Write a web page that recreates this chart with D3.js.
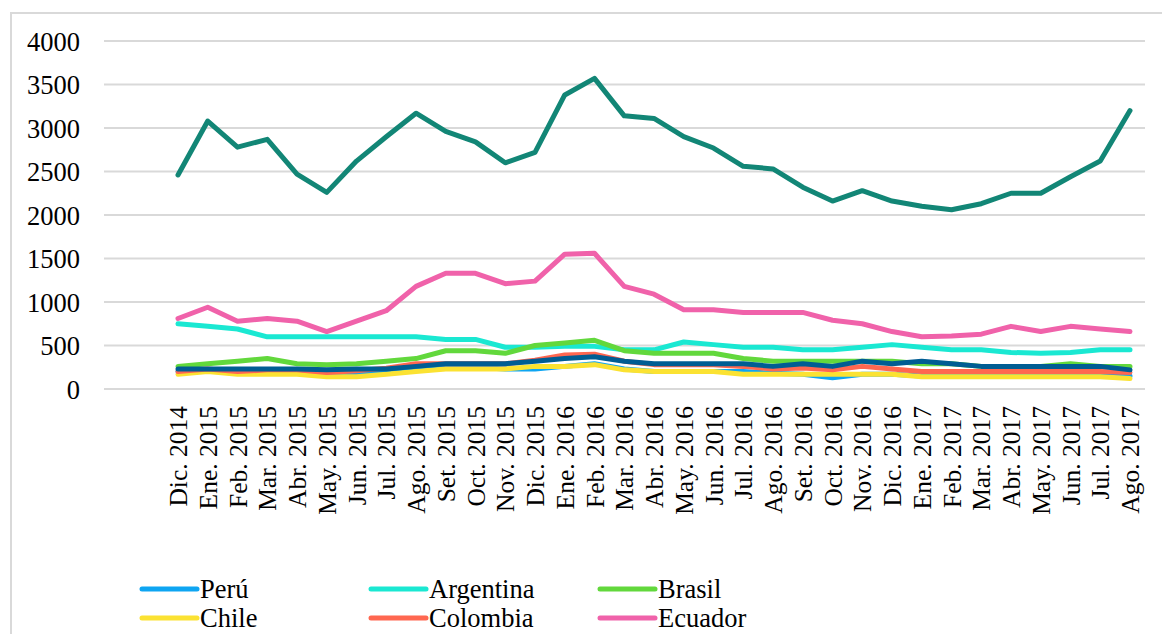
<!DOCTYPE html>
<html>
<head>
<meta charset="utf-8">
<script src="https://cdn.jsdelivr.net/npm/d3@7"></script>
<style>
  html, body { margin: 0; padding: 0; background: #fff; }
  svg { display: block; }
</style>
</head>
<body>
<svg id="chart" width="1162" height="634"></svg>
<script>
const categories = ["Dic. 2014","Ene. 2015","Feb. 2015","Mar. 2015","Abr. 2015","May. 2015","Jun. 2015","Jul. 2015","Ago. 2015","Set. 2015","Oct. 2015","Nov. 2015","Dic. 2015","Ene. 2016","Feb. 2016","Mar. 2016","Abr. 2016","May. 2016","Jun. 2016","Jul. 2016","Ago. 2016","Set. 2016","Oct. 2016","Nov. 2016","Dic. 2016","Ene. 2017","Feb. 2017","Mar. 2017","Abr. 2017","May. 2017","Jun. 2017","Jul. 2017","Ago. 2017"];

const yTicks = [0, 500, 1000, 1500, 2000, 2500, 3000, 3500, 4000];

const peru      = [200,220,200,200,200,180,180,200,220,250,250,230,230,260,290,230,200,200,200,200,180,170,130,170,170,150,150,150,150,150,150,150,150];
const argentina = [750,720,690,600,600,600,600,600,600,570,570,480,480,490,490,450,450,540,510,480,480,450,450,480,510,480,450,450,420,410,420,450,450];
const brasil    = [260,290,320,350,290,280,290,320,350,440,440,410,500,530,560,440,410,410,410,350,320,320,320,320,320,290,290,260,260,260,290,260,260];
const chile     = [170,200,170,170,170,140,140,170,200,230,230,230,260,260,280,220,200,200,200,170,170,170,170,170,170,140,140,140,140,140,140,140,120];
const colombia  = [200,230,200,220,220,190,210,240,290,290,290,290,330,390,400,320,280,280,280,260,230,240,220,260,230,200,200,200,200,200,200,200,190];
const ecuador   = [810,940,780,810,780,660,780,900,1180,1330,1330,1210,1240,1550,1560,1180,1090,910,910,880,880,880,790,750,660,600,610,630,720,660,720,690,660];
const serieA    = [230,230,230,230,230,220,230,230,260,290,290,290,320,350,370,320,290,290,290,290,260,290,260,320,290,320,290,260,260,260,260,260,220];
const serieB    = [2460,3080,2780,2870,2470,2260,2620,2900,3170,2960,2840,2600,2720,3380,3570,3140,3110,2900,2770,2560,2530,2320,2160,2280,2160,2100,2060,2130,2250,2250,2440,2620,3200];

const series = [
  { name: "Perú",      values: peru,      color: "#0ea5f2", legend: true },
  { name: "Argentina", values: argentina, color: "#1ae8d2", legend: true },
  { name: "Brasil",    values: brasil,    color: "#62d83c", legend: true },
  { name: "Chile",     values: chile,     color: "#fbe232", legend: true },
  { name: "Colombia",  values: colombia,  color: "#ff6750", legend: true },
  { name: "Ecuador",   values: ecuador,   color: "#f062aa", legend: true },
  { name: "Serie 7",   values: serieA,    color: "#005d93", legend: false },
  { name: "Serie 8",   values: serieB,    color: "#128676", legend: false }
];

const FONT = '"Liberation Serif"';
const svg = d3.select("#chart");

// outer frame (extends past the canvas right/bottom)
svg.append("rect")
  .attr("x", 11).attr("y", 13)
  .attr("width", 1180).attr("height", 660)
  .attr("fill", "none").attr("stroke", "#d9d9d9").attr("stroke-width", 2);

const x = d3.scalePoint().domain(categories).range([178, 1130]);
const y = d3.scaleLinear().domain([0, 4000]).range([389, 41]);

// gridlines
svg.append("g").selectAll("line").data(yTicks).join("line")
  .attr("x1", 104).attr("x2", 1145)
  .attr("y1", d => y(d)).attr("y2", d => y(d))
  .attr("stroke", "#d9d9d9").attr("stroke-width", 2);

// y axis
const yAxis = d3.axisLeft(y).tickValues(yTicks).tickSize(0).tickPadding(0).tickFormat(d3.format("d"));
const gy = svg.append("g").attr("transform", "translate(80,0)").call(yAxis);
gy.select(".domain").remove();
gy.attr("font-family", null).attr("font-size", null);
gy.selectAll("text")
  .style("font-family", FONT).style("font-size", "26.5px")
  .attr("fill", "#000").attr("dy", "0.34em");

// x axis
const xAxis = d3.axisBottom(x).tickSize(0).tickPadding(0);
const gx = svg.append("g").attr("transform", "translate(0,406)").call(xAxis);
gx.select(".domain").remove();
gx.attr("font-family", null).attr("font-size", null);
gx.selectAll("text")
  .style("font-family", FONT).style("font-size", "25.5px")
  .attr("fill", "#000")
  .attr("text-anchor", "end")
  .attr("transform", "rotate(-90)")
  .attr("x", 0).attr("y", 0).attr("dx", 0).attr("dy", "0.34em");

// lines
const line = d3.line().x((d, i) => x(categories[i])).y(d => y(d));
svg.append("g").selectAll("path").data(series).join("path")
  .attr("d", s => line(s.values))
  .attr("fill", "none")
  .attr("stroke", s => s.color)
  .attr("stroke-width", 5)
  .attr("stroke-linejoin", "round")
  .attr("stroke-linecap", "round");

// legend
const legendItems = series.filter(s => s.legend);
const lg = svg.append("g").selectAll("g").data(legendItems).join("g")
  .attr("transform", (d, i) => `translate(${142 + (i % 3) * 229},${589 + Math.floor(i / 3) * 29})`);
lg.append("line").attr("x1", 0).attr("x2", 55).attr("y1", 0).attr("y2", 0)
  .attr("stroke", d => d.color).attr("stroke-width", 5).attr("stroke-linecap", "round");
lg.append("text").attr("x", 58).attr("y", 0).attr("dy", "0.34em")
  .style("font-family", FONT).style("font-size", "26.5px")
  .attr("fill", "#000").text(d => d.name);
</script>
</body>
</html>
